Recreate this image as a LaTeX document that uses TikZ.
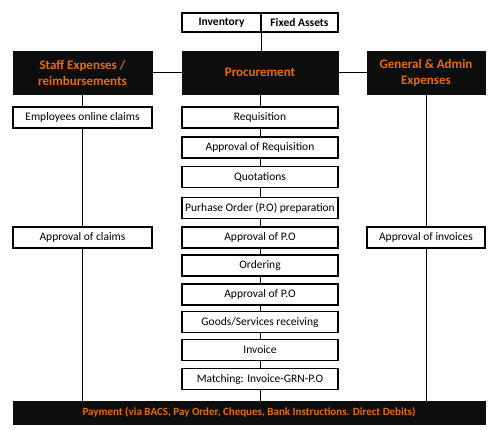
\documentclass[tikz,border=0pt]{standalone}
\usepackage{fontspec}
\setmainfont{Carlito}
\usetikzlibrary{positioning}
\definecolor{darkfill}{RGB}{13,13,13}
\definecolor{orangetxt}{RGB}{228,108,10}
\tikzstyle{sbox}=[rectangle, draw=black, line width=1.3pt, fill=white,
  font=\fontsize{11.5}{12}\selectfont, text centered, inner sep=1pt,
  minimum width=156pt, minimum height=21pt]
\tikzstyle{hbox}=[rectangle, draw=darkfill, fill=darkfill, text=orangetxt,
  font=\fontsize{13}{16}\selectfont\bfseries, align=center,
  minimum height=43pt]
\tikzstyle{link}=[line width=0.8pt]

\begin{document}
\begin{tikzpicture}[x=1pt, y=-1pt]
    \useasboundingbox (0,0) rectangle (498,430);
    % top: asset types
    \node[sbox, font=\fontsize{11.5}{12}\selectfont\bfseries, minimum width=79pt,
      minimum height=19pt] (inv) at (221.5,22.5) {Inventory};
    \node[sbox, font=\fontsize{11.5}{12}\selectfont\bfseries, minimum width=77pt,
      minimum height=19pt] (fix) at (299.5,22.5) {Fixed Assets};
    % headers
    \node[hbox, minimum width=139pt] (staff) at (82.5,72.5)
      {Staff Expenses /\\reimbursements};
    \node[hbox, minimum width=156pt] (proc) at (260,72.5) {Procurement};
    \node[hbox, minimum width=118pt] (gen) at (426,72.5)
      {General \& Admin\\Expenses};
    % procurement steps
    \node[sbox] (req) at (260,117.5) {Requisition};
    \node[sbox] (apreq) at (260,147.5) {Approval of Requisition};
    \node[sbox] (quot) at (260,177) {Quotations};
    \node[sbox] (po) at (260,208) {Purhase Order (P.O) preparation};
    \node[sbox] (appo) at (260,237.5) {Approval of P.O};
    \node[sbox] (ord) at (260,265.5) {Ordering};
    \node[sbox] (appotwo) at (260,294.5) {Approval of P.O};
    \node[sbox] (goods) at (260,322) {Goods/Services receiving};
    \node[sbox] (invc) at (260,350) {Invoice};
    \node[sbox] (match) at (260,379) {Matching: Invoice-GRN-P.O};
    % side steps
    \node[sbox, minimum width=139pt] (claims) at (82.5,117.5) {Employees online claims};
    \node[sbox, minimum width=139pt] (apclaims) at (82.5,237.5) {Approval of claims};
    \node[sbox, minimum width=118pt] (apinv) at (426,237.5) {Approval of invoices};
    % payment
    \node[hbox, minimum width=472pt, minimum height=23pt,
      font=\fontsize{11}{12}\selectfont\bfseries] (pay) at (249,412.5)
      {Payment (via BACS, Pay Order, Cheques, Bank Instructions. Direct Debits)};
    % connectors
    \draw[link] (inv.south east) -- (inv.south east |- proc.north);
    \draw[link] (staff) -- (proc);
    \draw[link] (proc) -- (gen);
    \draw[link] (proc) -- (req);
    \draw[link] (req) -- (apreq);
    \draw[link] (apreq) -- (quot);
    \draw[link] (quot) -- (po);
    \draw[link] (po) -- (appo);
    \draw[link] (appo) -- (ord);
    \draw[link] (ord) -- (appotwo);
    \draw[link] (appotwo) -- (goods);
    \draw[link] (goods) -- (invc);
    \draw[link] (invc) -- (match);
    \draw[link] (match) -- (match |- pay.north);
    \draw[link] (staff) -- (claims);
    \draw[link] (claims) -- (apclaims);
    \draw[link] (apclaims) -- (apclaims |- pay.north);
    \draw[link] (gen) -- (apinv);
    \draw[link] (apinv) -- (apinv |- pay.north);
  \end{tikzpicture}
\end{document}
